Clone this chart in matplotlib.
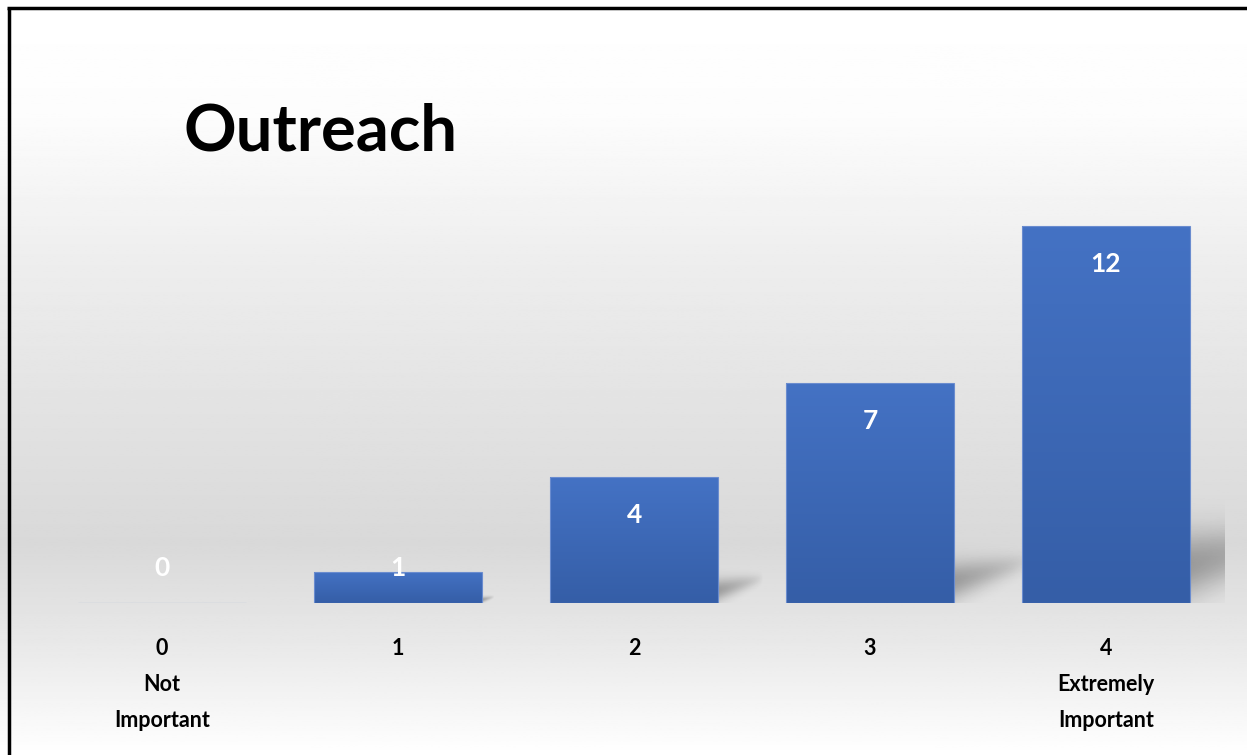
import numpy as np
import matplotlib
matplotlib.use("Agg")
from matplotlib import pyplot as plt

# data
categories = ["0\nNot\nImportant", "1", "2", "3", "4\nExtremely\nImportant"]
counts = [0, 1, 4, 7, 12]
title = "Outreach"

plt.rcParams['font.family'] = ['Lato', 'DejaVu Sans']

fig = plt.figure(figsize=(12.47, 7.55), dpi=100)

# background gradient (white -> grey -> white)
bg = fig.add_axes([0, 0, 1, 1], zorder=-5)
rows = np.linspace(0, 1, 400)  # 0 = top
shade = np.interp(rows, [0, 0.15, 0.35, 0.72, 0.85, 1.0], [1.0, 0.99, 0.93, 0.85, 0.91, 1.0])
bg.imshow(np.tile(shade[:, None], (1, 2)), cmap="gray", vmin=0, vmax=1, aspect="auto",
          extent=[0, 1, 0, 1])
bg.set_xlim(0, 1)
bg.set_ylim(0, 1)
bg.axis("off")
# frame lines on left and top
bg.plot([0.0075, 0.0075], [0, 0.99], color="black", lw=2.5, solid_capstyle="butt")
bg.plot([0.006, 1], [0.9894, 0.9894], color="black", lw=2.5, solid_capstyle="butt")

ax = fig.add_axes([0.0353, 0.2013, 0.9463, 0.5828])
ax.patch.set_alpha(0)
x = np.arange(len(counts))
width = 0.71

bars = ax.bar(x, counts, width=width, color="none", edgecolor="#6a8ccf", linewidth=0.8, zorder=4)

grad = np.linspace(0, 1, 100)[:, None]
cmap = matplotlib.colors.LinearSegmentedColormap.from_list("b", ["#4472c4", "#355ea7"])

for b, v in zip(bars, counts):
    if v == 0:
        continue
    x0 = b.get_x()
    x1 = x0 + b.get_width()

    # soft wedge-shaped shadow to the right of the bar, scaled with bar height
    s = v / 7.0
    sw = 0.33 * s
    n = 150
    u = np.linspace(0, 1, n)[None, :]
    top = 2.4 * s
    yy = np.linspace(top, 0, n)[:, None]
    yc = (0.7 + 0.65 * u) * s
    hw = (0.6 - 0.33 * u) * s
    a = 0.3 * np.exp(-((yy - yc) / hw) ** 2) * (1 - u) ** 0.7
    rgba = np.zeros((n, n, 4))
    rgba[..., 3] = a
    ax.imshow(rgba, aspect="auto", extent=[x1, x1 + sw, 0, top], zorder=2,
              interpolation="bilinear")

    im = ax.imshow(grad, cmap=cmap, aspect="auto", extent=[x0, x1, 0, v], zorder=3)
    im.set_clip_path(b)

ax.set_xlim(-0.5, 4.5)
ax.set_ylim(0, 14)

for i, v in enumerate(counts):
    ax.text(i, max(v - 1.2, 1.1), str(v), ha="center", va="center", color="white",
            fontsize=19, fontweight="bold", zorder=5)

ax.set_xticks(x)
ax.set_xticklabels(categories, fontsize=15.5, fontweight="bold", linespacing=1.9)
ax.tick_params(axis="x", length=0, pad=25)
ax.set_yticks([])
for sp in ax.spines.values():
    sp.set_visible(False)

fig.text(0.147, 0.8013, title, fontsize=47, fontweight="bold", ha="left", va="baseline")

fig.savefig("out.png", dpi=100)
